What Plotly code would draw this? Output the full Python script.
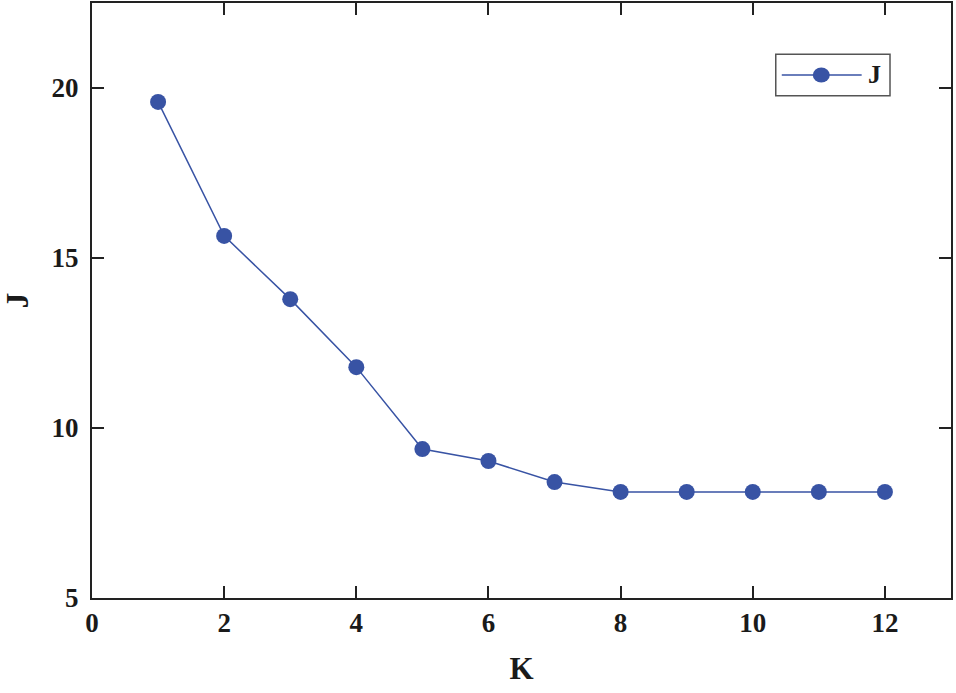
import plotly.graph_objects as go

k_values = [1, 2, 3, 4, 5, 6, 7, 8, 9, 10, 11, 12]
j_values = [19.59, 15.65, 13.79, 11.79, 9.38, 9.03, 8.41, 8.12, 8.12, 8.12, 8.12, 8.12]

x_ticks = [0, 2, 4, 6, 8, 10, 12]
y_ticks = [5, 10, 15, 20]

font_family = "Liberation Serif, Times New Roman, serif"
blue = "#3853a4"
axis_color = "#222222"

fig = go.Figure()
fig.add_trace(go.Scatter(
    x=k_values, y=j_values, mode="lines+markers", name="J",
    line=dict(color=blue, width=1.5),
    marker=dict(color=blue, size=16, symbol="circle"),
    showlegend=False,
))

axis_common = dict(
    showline=True, linewidth=2, linecolor=axis_color, mirror="ticks",
    ticks="inside", ticklen=12, tickwidth=2, tickcolor=axis_color,
    showgrid=False, zeroline=False, automargin=False,
    tickfont=dict(family=font_family, size=27, color="#1a1a1a", weight="bold"),
)

fig.update_layout(
    width=956, height=693,
    margin=dict(l=92, r=5, t=3, b=95),
    plot_bgcolor="white", paper_bgcolor="white",
    font=dict(family=font_family, color="#1a1a1a"),
    xaxis=dict(range=[0, 13], tickvals=x_ticks,
               title=dict(text="<b>K</b>", font=dict(size=31), standoff=20),
               **axis_common),
    yaxis=dict(range=[5, 22.5], tickvals=y_ticks, ticklabelstandoff=6,
               title=dict(text="<b>J</b>", font=dict(size=31), standoff=28),
               **axis_common),
)

# legend box drawn by hand so the sample line matches the original length
fig.add_shape(type="rect", xref="paper", yref="paper",
              x0=0.796, x1=0.929, y0=0.844, y1=0.914,
              line=dict(color="#555555", width=1.5), fillcolor="white")
fig.add_shape(type="line", xref="paper", yref="paper",
              x0=0.803, x1=0.896, y0=0.879, y1=0.879,
              line=dict(color=blue, width=1.5))
fig.add_shape(type="circle", xref="paper", yref="paper",
              xsizemode="pixel", ysizemode="pixel",
              xanchor=0.849, yanchor=0.879, x0=-8.5, x1=8.5, y0=-7.5, y1=7.5,
              line=dict(color=blue, width=0), fillcolor=blue)
fig.add_annotation(xref="paper", yref="paper", x=0.901, y=0.879,
                   xanchor="left", yanchor="middle", showarrow=False,
                   text="<b>J</b>", font=dict(family=font_family, size=26, color="#1a1a1a"))

# drop the browser's default body margin so the figure sits at the page corner
fig.write_html("out.html", config={"displayModeBar": False},
               post_script="document.body.style.margin='0';")
